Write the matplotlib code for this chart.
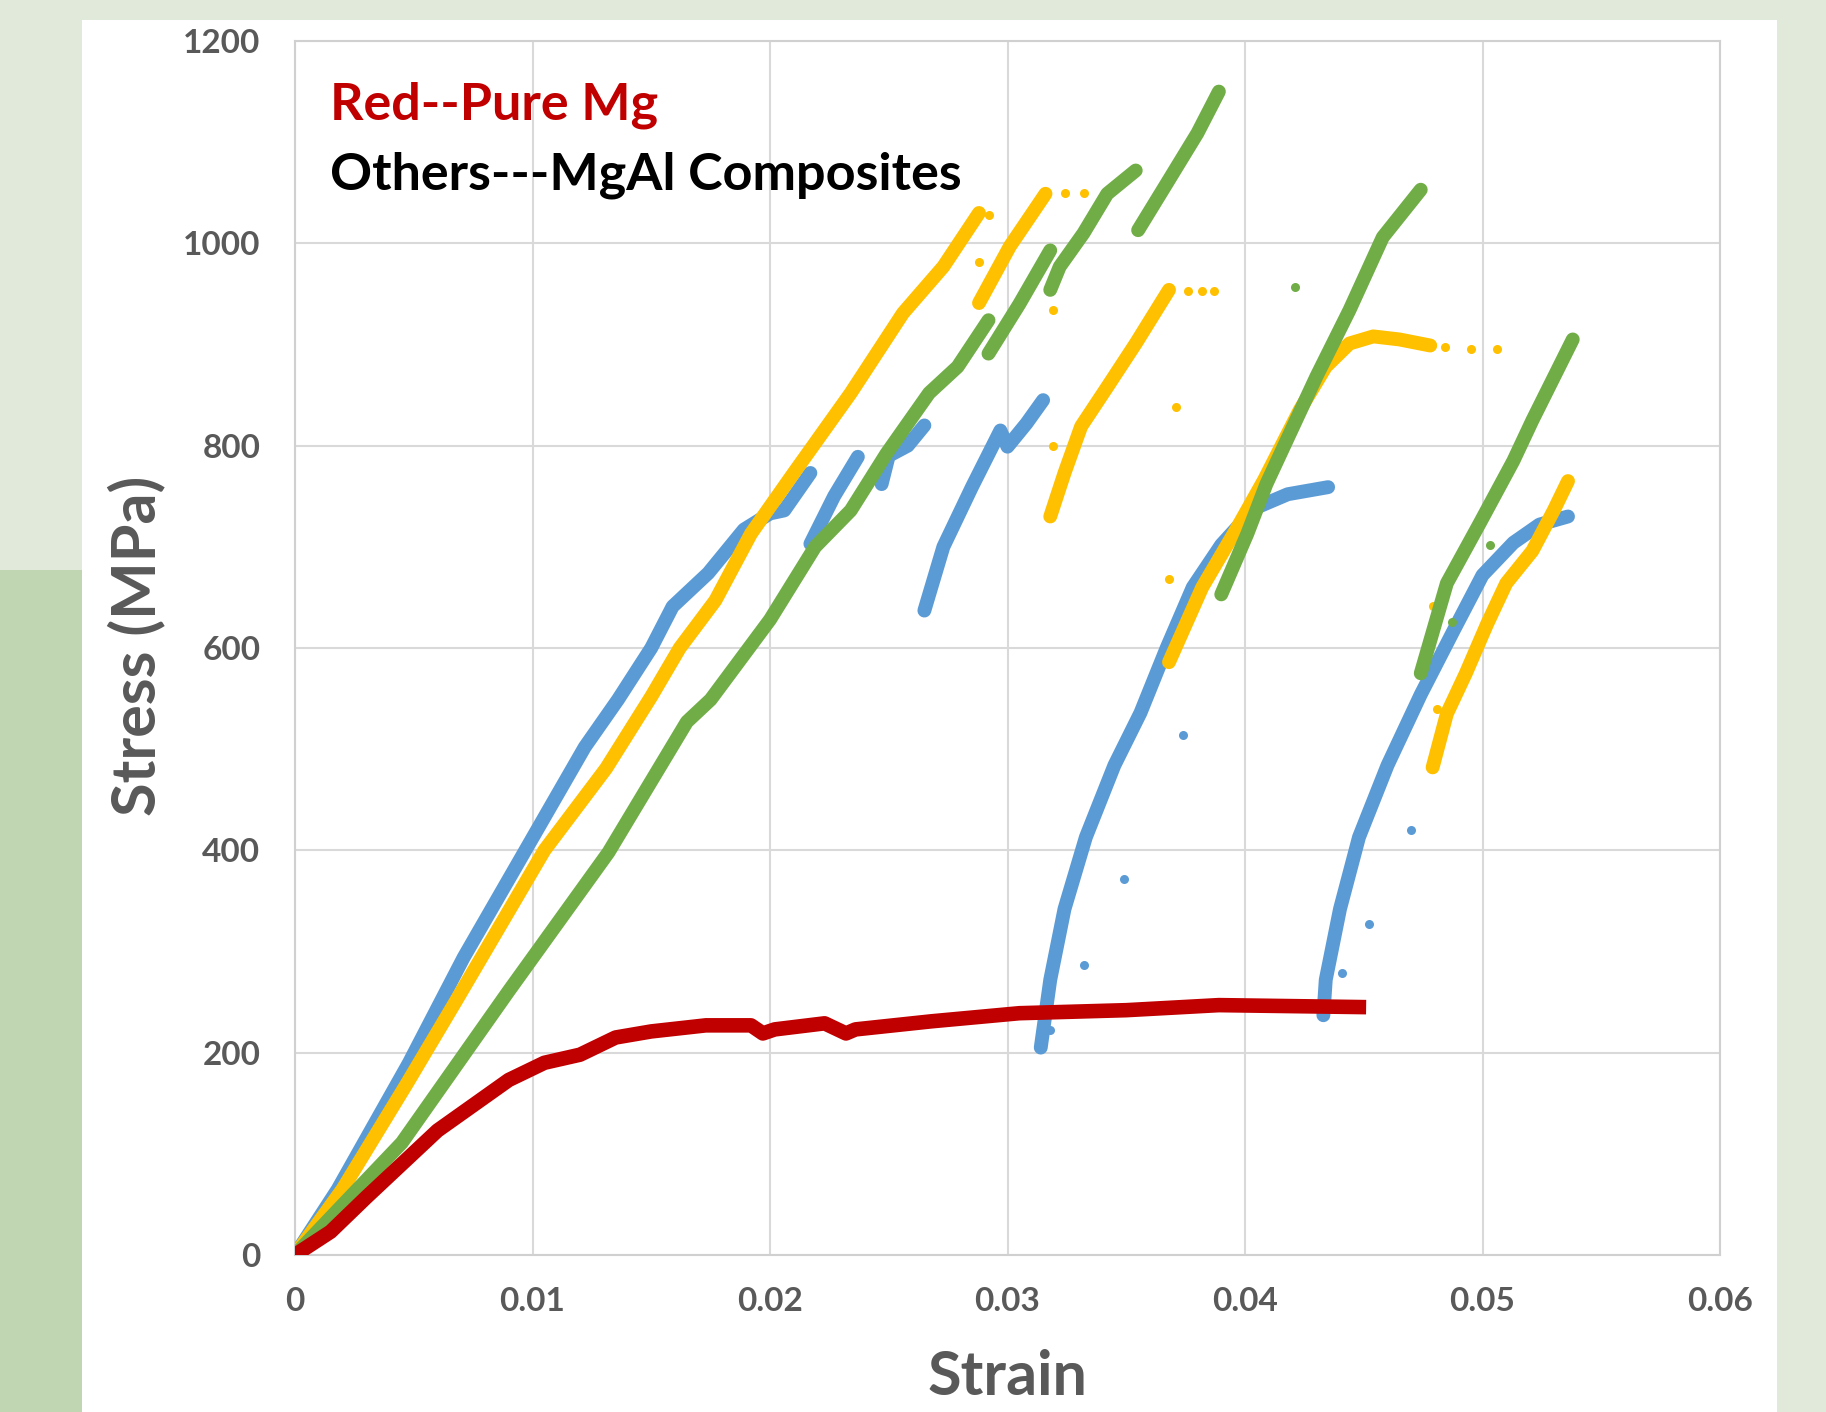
import numpy as np
import matplotlib.pyplot as plt
from matplotlib.patches import Rectangle

# stress-strain data (strain, MPa)
# blue specimen, several reloading segments
blue_a_x = [0, 0.0018, 0.0048, 0.0071, 0.0097, 0.0122, 0.0136, 0.0150, 0.0159, 0.0174, 0.0189, 0.0200, 0.0206, 0.0217]
blue_a_y = [0, 65, 190, 294, 400, 502, 549, 600, 641, 674, 717, 733, 736, 773]
blue_b_x = [0.0217, 0.0227, 0.0237]
blue_b_y = [703, 750, 789]
blue_c_x = [0.0247, 0.0250, 0.0258, 0.0265]
blue_c_y = [762, 790, 800, 820]
blue_d_x = [0.0265, 0.0273, 0.0285, 0.0297, 0.0300, 0.0308, 0.0315]
blue_d_y = [637, 700, 759, 815, 799, 822, 845]
blue_e_x = [0.0314, 0.0318, 0.0324, 0.0333, 0.0345, 0.0356, 0.0367, 0.0378, 0.0390, 0.0404, 0.0418, 0.0435]
blue_e_y = [205, 272, 342, 413, 484, 536, 600, 660, 702, 738, 752, 759]
blue_f_x = [0.0433, 0.0434, 0.0440, 0.0448, 0.0460, 0.0474, 0.0488, 0.0500, 0.0513, 0.0524, 0.0536]
blue_f_y = [237, 272, 342, 413, 484, 554, 618, 672, 704, 722, 730]
blue_dots_x = [0.0374, 0.0349, 0.0332, 0.0470, 0.0452, 0.0441, 0.0318]
blue_dots_y = [514, 372, 287, 420, 327, 279, 222]

# yellow specimen
yel_a_x = [0, 0.0020, 0.0047, 0.0068, 0.0105, 0.0131, 0.0150, 0.0162, 0.0177, 0.0192, 0.0210, 0.0234, 0.0256, 0.0273, 0.0288]
yel_a_y = [0, 65, 169, 252, 400, 481, 552, 600, 647, 713, 773, 852, 931, 977, 1030]
yel_b_x = [0.0288, 0.0301, 0.0316]
yel_b_y = [941, 997, 1049]
yel_c_x = [0.0318, 0.0324, 0.0331, 0.0342, 0.0354, 0.0368]
yel_c_y = [730, 773, 819, 858, 901, 954]
yel_d_x = [0.0368, 0.0382, 0.0397, 0.0408, 0.0423, 0.0434, 0.0444, 0.0454, 0.0465, 0.0478]
yel_d_y = [586, 660, 720, 766, 835, 878, 901, 908, 905, 899]
yel_e_x = [0.0479, 0.0485, 0.0493, 0.0502, 0.0510, 0.0521, 0.0530, 0.0536]
yel_e_y = [482, 535, 575, 624, 664, 696, 736, 765]
yel_dots_x = [0.0292, 0.0288, 0.0324, 0.0332, 0.0319, 0.0319, 0.0376, 0.0382, 0.0387, 0.0368, 0.0371, 0.0484, 0.0495, 0.0506, 0.0479, 0.0481]
yel_dots_y = [1028, 982, 1050, 1050, 934, 800, 953, 953, 953, 668, 838, 898, 896, 896, 642, 540]

# green specimen
grn_a_x = [0, 0.0045, 0.0090, 0.0132, 0.0165, 0.0175, 0.0200, 0.0219, 0.0234, 0.0249, 0.0267, 0.0279, 0.0292]
grn_a_y = [0, 111, 261, 398, 527, 549, 628, 700, 736, 792, 852, 878, 924]
grn_b_x = [0.0292, 0.0305, 0.0318]
grn_b_y = [891, 940, 993]
grn_c_x = [0.0318, 0.0322, 0.0332, 0.0342, 0.0354]
grn_c_y = [954, 977, 1010, 1049, 1072]
grn_d_x = [0.0355, 0.0367, 0.0380, 0.0389]
grn_d_y = [1013, 1059, 1109, 1150]
grn_e_x = [0.0390, 0.0401, 0.0409, 0.0430, 0.0444, 0.0458, 0.0474]
grn_e_y = [653, 713, 762, 868, 934, 1006, 1053]
grn_f_x = [0.0474, 0.0485, 0.0499, 0.0513, 0.0521, 0.0538]
grn_f_y = [575, 664, 724, 785, 825, 905]
grn_dots_x = [0.0421, 0.0503, 0.0487]
grn_dots_y = [957, 702, 626]

# pure Mg
red_x = [0, 0.0015, 0.003, 0.0045, 0.006, 0.0075, 0.009, 0.0105, 0.012, 0.0135, 0.015, 0.0173, 0.0192,
         0.0197, 0.0202, 0.0223, 0.0232, 0.0236, 0.0268, 0.0305, 0.035, 0.0389, 0.042, 0.0451]
red_y = [0, 23, 57, 90, 123, 148, 173, 190, 198, 215, 221, 227, 227,
         219, 223, 229, 219, 223, 231, 239, 242, 247, 246, 245]

blue = '#5B9BD5'
yellow = '#FFC000'
green = '#70AD47'
red = '#C00000'
grey = '#595959'
font = 'Lato'

fig = plt.figure(figsize=(18.26, 14.12), dpi=100, facecolor='#E1E9DA')
fig.patches.append(Rectangle((82 / 1826, 0), (1777 - 82) / 1826, (1412 - 20) / 1412,
                             transform=fig.transFigure, facecolor='white', edgecolor='none', zorder=-10))
fig.patches.append(Rectangle((0, 0), 82 / 1826, (1412 - 570) / 1412,
                             transform=fig.transFigure, facecolor='#C0D6B3', edgecolor='none', zorder=-10))

ax = fig.add_axes([295 / 1826, 157 / 1412, 1425 / 1826, 1214 / 1412])
ax.set_facecolor('white')

lw = 10
segs = [
    (blue, [(blue_a_x, blue_a_y), (blue_b_x, blue_b_y), (blue_c_x, blue_c_y),
            (blue_d_x, blue_d_y), (blue_e_x, blue_e_y), (blue_f_x, blue_f_y)], (blue_dots_x, blue_dots_y)),
    (yellow, [(yel_a_x, yel_a_y), (yel_b_x, yel_b_y), (yel_c_x, yel_c_y),
              (yel_d_x, yel_d_y), (yel_e_x, yel_e_y)], (yel_dots_x, yel_dots_y)),
    (green, [(grn_a_x, grn_a_y), (grn_b_x, grn_b_y), (grn_c_x, grn_c_y),
             (grn_d_x, grn_d_y), (grn_e_x, grn_e_y), (grn_f_x, grn_f_y)], (grn_dots_x, grn_dots_y)),
]
z = 3
for col, parts, dots in segs:
    for sx, sy in parts:
        ax.plot(sx, sy, color=col, lw=lw, solid_capstyle='round', solid_joinstyle='round', zorder=z)
    ax.plot(dots[0], dots[1], 'o', color=col, ms=6.5, mec='none', zorder=z)
    z += 1
ax.plot(red_x, red_y, color=red, lw=10.5, solid_capstyle='butt', solid_joinstyle='round', zorder=z)

ax.set_xlim(0, 0.06)
ax.set_ylim(0, 1200)
ax.set_xticks(np.arange(0, 0.061, 0.01))
ax.set_xticklabels(['0', '0.01', '0.02', '0.03', '0.04', '0.05', '0.06'])
ax.set_yticks(np.arange(0, 1201, 200))
ax.grid(True, color='#D9D9D9', lw=1.5, zorder=0)
ax.set_axisbelow(True)
for s in ax.spines.values():
    s.set_color('#D0D0D0')
    s.set_linewidth(1.5)
ax.tick_params(length=0, labelsize=24, labelcolor=grey)
ax.tick_params(axis='y', pad=25)
ax.tick_params(axis='x', pad=23)
for lab in ax.get_xticklabels() + ax.get_yticklabels():
    lab.set_fontweight('bold')
    lab.set_fontfamily(font)

fig.text(330 / 1826, 1 - 105 / 1412, 'Red--Pure Mg', color=red, fontsize=37.5, fontweight='bold',
         family=font, ha='left', va='center')
fig.text(330 / 1826, 1 - 175 / 1412, 'Others---MgAl Composites', color='black', fontsize=37.5,
         fontweight='bold', family=font, ha='left', va='center')
fig.text(136 / 1826, 1 - 646 / 1412, 'Stress (MPa)', color=grey, fontsize=44, fontweight='bold',
         family=font, rotation=90, ha='center', va='center')
fig.text(1007 / 1826, 1 - 1377 / 1412, 'Strain', color=grey, fontsize=44, fontweight='bold',
         family=font, ha='center', va='center')

fig.savefig('out.png', dpi=100, facecolor=fig.get_facecolor())
